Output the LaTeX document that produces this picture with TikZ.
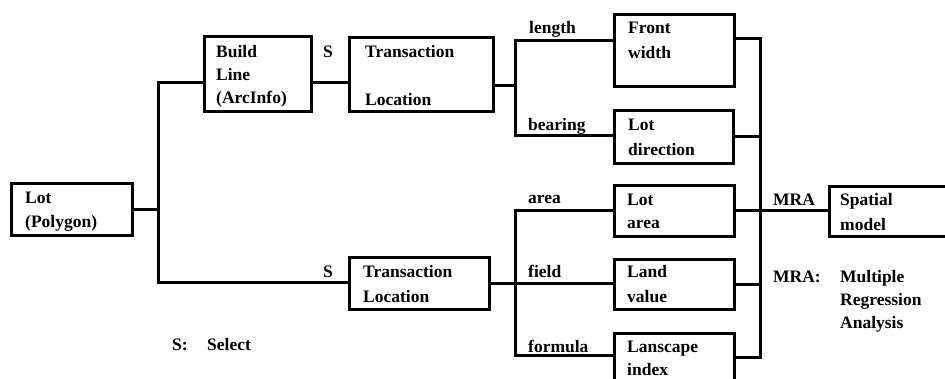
\documentclass[tikz,border=0pt]{standalone}
\usepackage{fontspec}
\setmainfont{Liberation Serif}
\begin{document}
\begin{tikzpicture}[x=1pt,y=-1pt,
  box/.style={draw, line width=2.8pt, rectangle, inner sep=0pt, anchor=north west},
  conn/.style={line width=3pt, line join=miter},
  lbl/.style={anchor=base west, inner sep=0pt, font=\fontsize{17.5}{20}\selectfont\bfseries}]
\useasboundingbox (0,0) rectangle (945,378);
% boxes
\node[box, minimum width=121pt, minimum height=52pt] (lot) at (10,182) {};
\node[box, minimum width=107pt, minimum height=75pt] (build) at (203,35) {};
\node[box, minimum width=144pt, minimum height=74pt] (trans1) at (348,36) {};
\node[box, minimum width=140pt, minimum height=52pt] (trans2) at (348,256) {};
\node[box, minimum width=120pt, minimum height=72pt] (front) at (613,13) {};
\node[box, minimum width=119pt, minimum height=53pt] (lotdir) at (613,109) {};
\node[box, minimum width=120pt, minimum height=51pt] (lotarea) at (613,184) {};
\node[box, minimum width=120pt, minimum height=50pt] (landval) at (613,258) {};
\node[box, minimum width=120pt, minimum height=70pt] (lansc) at (613,332) {};
\node[box, minimum width=140pt, minimum height=50pt] (spatial) at (828,185) {};
% junctions
\coordinate (a1) at (158,82);
\coordinate (a2) at (158,282);
\coordinate (c0) at (515,85);
\coordinate (c1) at (515,40);
\coordinate (c2) at (515,135);
\coordinate (d1) at (515,210);
\coordinate (d2) at (515,283);
\coordinate (d3) at (515,355);
\coordinate (e1) at (760,38);
\coordinate (e5) at (760,357);
% connectors
\draw[conn] (lot.east) -- (lot.east -| a1);
\draw[conn] (build.west |- a1) -- (a1) -- (a2) -- (trans2.west |- a2);
\draw[conn] (build.east |- a1) -- (trans1.west |- a1);
\draw[conn] (trans1.east |- c0) -- (c0);
\draw[conn] (front.west |- c1) -- (c1) -- (c2) -- (lotdir.west |- c2);
\draw[conn] (trans2.east |- d2) -- (d2);
\draw[conn] (lotarea.west |- d1) -- (d1) -- (d3) -- (lansc.west |- d3);
\draw[conn] (d2) -- (landval.west |- d2);
\draw[conn] (front.east |- e1) -- (e1) -- (e5) -- (lansc.east |- e5);
\draw[conn] (lotdir.east) -- (lotdir.east -| e1);
\draw[conn] (lotarea.east) -- (spatial.west |- lotarea.east);
\draw[conn] (landval.east) -- (landval.east -| e1);
% texts
\node[lbl] (tlot1) at (25,203) {Lot};
\node[lbl] (tlot2) at (25,227) {(Polygon)};
\node[lbl] (tb1) at (216,57) {Build};
\node[lbl] (tb2) at (216,80) {Line};
\node[lbl] (tb3) at (216,103) {(ArcInfo)};
\node[lbl] (ts1) at (323,57) {S};
\node[lbl] (tt1) at (365,57) {Transaction};
\node[lbl] (tt2) at (365,105) {Location};
\node[lbl] (tlen) at (529,33) {length};
\node[lbl] (tf1) at (628,33) {Front};
\node[lbl] (tf2) at (628,58) {width};
\node[lbl] (tbear) at (528,130) {bearing};
\node[lbl] (tld1) at (628,130) {Lot};
\node[lbl] (tld2) at (628,155) {direction};
\node[lbl] (tarea) at (528,203) {area};
\node[lbl] (tla1) at (627,205) {Lot};
\node[lbl] (tla2) at (627,228) {area};
\node[lbl] (tfield) at (528,277) {field};
\node[lbl] (tlv1) at (627,277) {Land};
\node[lbl] (tlv2) at (627,302) {value};
\node[lbl] (tform) at (528,352) {formula};
\node[lbl] (tli1) at (627,352) {Lanscape};
\node[lbl] (tli2) at (627,375) {index};
\node[lbl] (tmra) at (773,205) {MRA};
\node[lbl] (tsp1) at (840,205) {Spatial};
\node[lbl] (tsp2) at (840,230) {model};
\node[lbl] (tmra2) at (773,282) {MRA:};
\node[lbl] (tm1) at (840,282) {Multiple};
\node[lbl] (tm2) at (840,305) {Regression};
\node[lbl] (tm3) at (840,328) {Analysis};
\node[lbl] (ts2) at (323,277) {S};
\node[lbl] (ttb1) at (363,277) {Transaction};
\node[lbl] (ttb2) at (363,302) {Location};
\node[lbl] (tsk) at (172,350) {S:};
\node[lbl] (tsel) at (207,350) {Select};
\end{tikzpicture}
\end{document}
